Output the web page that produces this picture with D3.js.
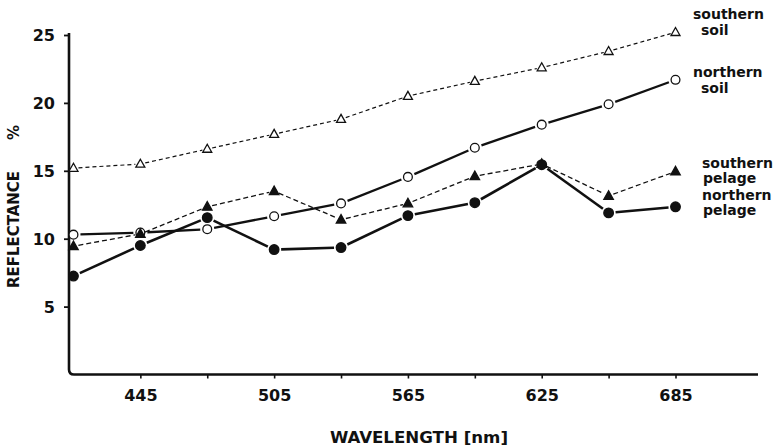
<!DOCTYPE html>
<html>
<head>
<meta charset="utf-8">
<script src="https://cdn.jsdelivr.net/npm/d3@7"></script>
<style>
  html, body { margin: 0; padding: 0; background: #fff; }
  svg { display: block; }
  text { font-family: "DejaVu Sans", sans-serif; font-weight: bold; fill: #111; }
</style>
</head>
<body>
<svg id="chart" width="774" height="447"></svg>
<script>
// ---- data ----
const wavelengths = [415, 445, 475, 505, 535, 565, 595, 625, 655, 685];
const southernSoil   = [15.2, 15.5, 16.6, 17.7, 18.8, 20.5, 21.6, 22.6, 23.8, 25.2];
const northernSoil   = [10.3, 10.45, 10.7, 11.65, 12.6, 14.55, 16.7, 18.4, 19.9, 21.7];
const southernPelage = [9.45, 10.35, 12.35, 13.5, 11.4, 12.6, 14.6, 15.5, 13.15, 14.95];
const northernPelage = [7.25, 9.5, 11.55, 9.2, 9.35, 11.7, 12.65, 15.45, 11.9, 12.35];
const xMajorTicks = [445, 505, 565, 625, 685];
const xMinorTicks = [475, 535, 595, 655];
const yTicks = [5, 10, 15, 20, 25];
const seriesNames = ["southern soil", "northern soil", "southern pelage", "northern pelage"];
const xTitle = "WAVELENGTH [nm]";
const yTitle = "REFLECTANCE";

const svg = d3.select("#chart");
const x = d3.scaleLinear().domain([413, 722]).range([69, 758]);
const y = d3.scaleLinear().domain([0, 25]).range([374.5, 35]);

// ---- axes ----
const gx = svg.append("g").attr("transform", `translate(0,${y(0)})`)
  .call(d3.axisBottom(x).tickValues(xMajorTicks.concat(xMinorTicks))
    .tickSize(4).tickPadding(14)
    .tickFormat(d => xMajorTicks.includes(d) ? String(d) : ""));
gx.select(".domain").remove();
gx.selectAll(".tick line").attr("stroke", "#111").attr("stroke-width", 1.6);
gx.selectAll(".tick text").style("font-size", "16px").attr("fill", "#111")
  .attr("dy", "0.71em").attr("y", 15);

const gy = svg.append("g").attr("transform", `translate(${x(413)},0)`)
  .call(d3.axisLeft(y).tickValues(yTicks).tickSize(5).tickPadding(9));
gy.select(".domain").remove();
gy.selectAll(".tick line").attr("stroke", "#111").attr("stroke-width", 1.8);
gy.selectAll(".tick text").style("font-size", "16px").attr("fill", "#111").attr("dy", "0.36em");

// axis lines with rounded corner
const x0 = x(413), yb = y(0);
svg.append("path")
  .attr("d", `M${x0},${y(25) - 2} V${yb - 5} Q${x0},${yb} ${x0 + 5},${yb} H${x(722)}`)
  .attr("fill", "none").attr("stroke", "#111").attr("stroke-width", 2.6);

// titles
svg.append("text").attr("x", 419).attr("y", 443).attr("text-anchor", "middle")
  .style("font-family", "'DejaVu Sans Condensed', 'Liberation Sans Narrow', sans-serif")
  .style("font-size", "16px").attr("textLength", 178).attr("lengthAdjust", "spacingAndGlyphs")
  .text(xTitle);
svg.append("text").attr("transform", "translate(18.5,288) rotate(-90)")
  .style("font-size", "15px").attr("textLength", 117).attr("lengthAdjust", "spacingAndGlyphs")
  .text(yTitle);
svg.append("text").attr("transform", "translate(18.5,140) rotate(-90)")
  .style("font-size", "15px").text("%");

// ---- series ----
const series = [
  { values: southernSoil,   dash: "4,3", width: 1.2, marker: "tri",    filled: false, gap: 5 },
  { values: northernSoil,   dash: null,  width: 2.3, marker: "circle", filled: false, gap: 7 },
  { values: southernPelage, dash: "5,3", width: 1.3, marker: "tri",    filled: true,  gap: 5 },
  { values: northernPelage, dash: null,  width: 2.6, marker: "circle", filled: true,  gap: 7 }
];

series.forEach(s => {
  const pts = wavelengths.map((w, i) => [x(w), y(s.values[i])]);
  const g = svg.append("g");
  for (let i = 0; i < pts.length - 1; i++) {
    const [ax, ay] = pts[i], [bx, by] = pts[i + 1];
    const len = Math.hypot(bx - ax, by - ay);
    const ux = (bx - ax) / len, uy = (by - ay) / len;
    g.append("line")
      .attr("x1", ax + ux * s.gap).attr("y1", ay + uy * s.gap)
      .attr("x2", bx - ux * s.gap).attr("y2", by - uy * s.gap)
      .attr("stroke", "#111").attr("stroke-width", s.width)
      .attr("stroke-dasharray", s.dash);
  }
  pts.forEach(([px, py]) => {
    if (s.marker === "circle") {
      g.append("circle").attr("cx", px).attr("cy", py).attr("r", s.filled ? 4.8 : 4.4)
        .attr("fill", s.filled ? "#111" : "#fff").attr("stroke", "#111").attr("stroke-width", 1.3);
    } else {
      const h = s.filled ? 8.5 : 8, w = s.filled ? 9.5 : 9;
      g.append("path")
        .attr("d", `M${px},${py - h * 0.6} L${px + w / 2},${py + h * 0.4} L${px - w / 2},${py + h * 0.4} Z`)
        .attr("fill", s.filled ? "#111" : "#fff").attr("stroke", "#111").attr("stroke-width", 1.3)
        .attr("stroke-linejoin", "miter");
    }
  });
});

// ---- annotations (series labels) ----
const labelLines = [
  { t: "southern", x: 693, y: 19 }, { t: "soil", x: 701, y: 35 },
  { t: "northern", x: 693, y: 77 }, { t: "soil", x: 701, y: 93 },
  { t: "southern", x: 702, y: 168 }, { t: "pelage", x: 703, y: 183 },
  { t: "northern", x: 702, y: 200 }, { t: "pelage", x: 703, y: 215 }
];
svg.append("g").selectAll("text").data(labelLines).join("text")
  .attr("x", d => d.x).attr("y", d => d.y).style("font-size", "14px").text(d => d.t);
</script>
</body>
</html>
